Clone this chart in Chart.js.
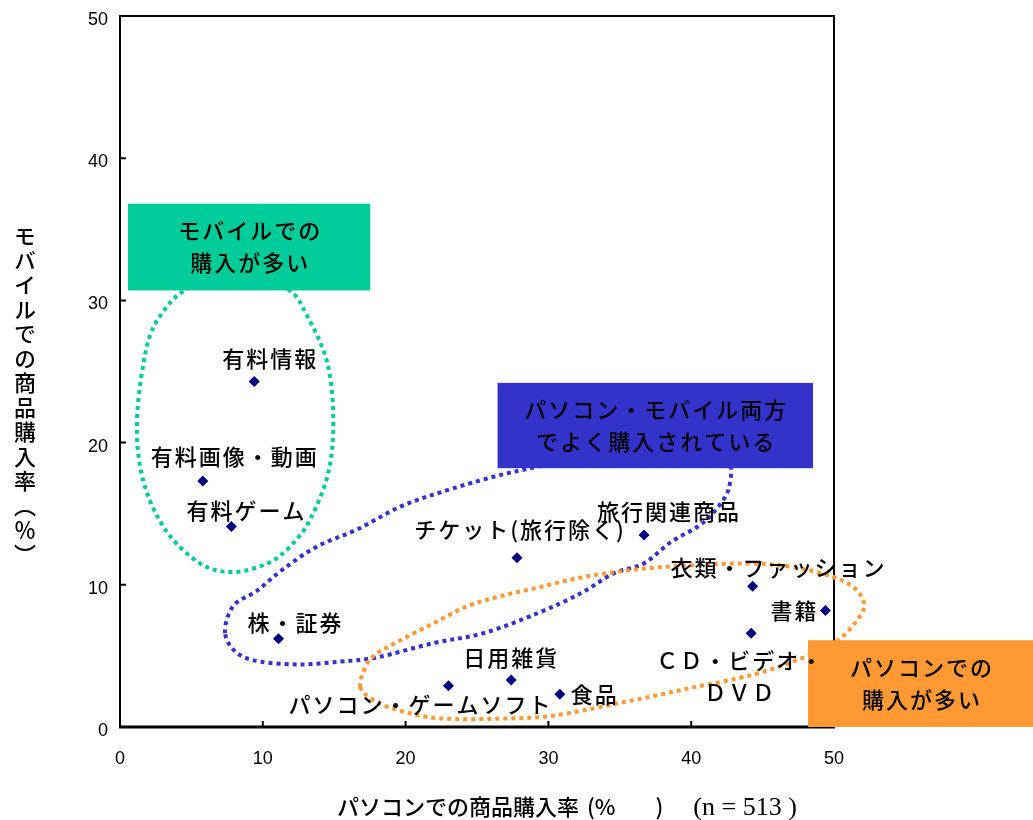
<!DOCTYPE html>
<html lang="ja">
<head>
<meta charset="utf-8">
<title>パソコンとモバイルでの商品購入率</title>
<script src="https://cdn.jsdelivr.net/npm/chart.js@4.4.1/dist/chart.umd.min.js"></script>
<style>
  html, body { margin: 0; padding: 0; background: #fff; }
  #wrap { position: relative; width: 1033px; height: 820px; overflow: hidden; }
  #chart { position: absolute; left: 0; top: 0; }
  .ytitle {
    position: absolute; left: 9px; top: 225px;
    writing-mode: vertical-rl;
    font: 500 22px "Noto Sans CJK JP", sans-serif;
    letter-spacing: 2.5px; color: #000;
  }
  .xtitle {
    position: absolute; left: 337px; top: 789px;
    font: 500 22px "Noto Sans CJK JP", sans-serif;
    white-space: nowrap; color: #000;
  }
  .xtitle .pct { margin-left: 8px; }
  .xtitle .close { margin-left: 40px; }
  .xtitle .n { font-family: "Liberation Serif", serif; font-size: 26px; margin-left: 30px; }
</style>
</head>
<body>
<div id="wrap">
  <canvas id="chart" width="1033" height="820"></canvas>
  <div class="ytitle">モバイルでの商品購入率（％）</div>
  <div class="xtitle">パソコンでの商品購入率<span class="pct">(%</span><span class="close">)</span><span class="n">(n = 513 )</span></div>
</div>
<script>
// ---- 商品ごとの購入率 (%) ----
const items = [
  "有料情報", "有料画像・動画", "有料ゲーム", "株・証券", "チケット(旅行除く)",
  "旅行関連商品", "衣類・ファッション", "書籍", "ＣＤ・ビデオ・ＤＶＤ",
  "日用雑貨", "パソコン・ゲームソフト", "食品"
];
const pcRate     = [9.4, 5.8, 7.8, 11.1, 27.8, 36.7, 44.3, 49.4, 44.2, 27.4, 23.0, 30.8];
const mobileRate = [24.3, 17.3, 14.1, 6.2, 11.9, 13.5, 9.9, 8.2, 6.6, 3.3, 2.9, 2.3];
const axisTicks  = [0, 10, 20, 30, 40, 50];

// ラベルの置き方 (点からのずれ, px)
const labelLayout = [
  { dx: 16, dy: -23 }, { dx: 32, dy: -24 }, { dx: 15, dy: -16 }, { dx: 17, dy: -16 },
  { dx: 3, dy: -28 }, { dx: 25, dy: -23 }, { dx: 26, dy: -19 },
  { dx: -7, dy: 0, align: "right" },
  { dx: -11, dy: 27, wrapAt: 7, lineGap: 32 },
  { dx: 0, dy: -22 }, { dx: -28, dy: 19 },
  { dx: 11, dy: 0, align: "left" }
];

// ---- グループを囲む点線 (軸の単位) ----
const mobileZone = [
  [8.06, 32.0], [11.71, 30.8], [13.11, 28.9], [14.52, 25.6], [14.94, 21.6], [14.59, 17.9],
  [13.32, 14.6], [11.92, 12.7], [10.31, 11.5], [7.92, 10.9], [5.61, 11.5], [3.16, 13.9],
  [1.61, 17.4], [1.19, 21.6], [1.89, 26.8], [3.02, 29.2], [4.70, 30.8]
];
const bothZone = [
  [7.36, 6.6], [7.92, 8.5], [9.61, 9.6], [11.43, 11.1], [13.81, 12.7], [16.62, 13.9],
  [19.64, 15.5], [22.44, 16.5], [26.16, 17.6], [29.24, 18.3], [33.66, 19.2], [39.27, 19.6],
  [42.43, 18.9], [42.64, 16.8], [41.58, 15.1], [40.46, 14.1], [38.57, 13.0], [36.68, 11.5],
  [34.57, 10.8], [32.26, 9.4], [29.24, 8.0], [25.46, 6.6], [21.95, 5.9], [18.02, 4.9],
  [15.43, 4.6], [12.62, 4.4], [9.82, 4.6], [8.20, 5.2]
];
const pcZone = [
  [16.83, 2.8], [17.18, 4.2], [17.88, 5.1], [19.64, 6.1], [21.95, 7.3], [24.33, 8.5],
  [26.65, 9.2], [29.24, 9.8], [32.75, 10.6], [37.38, 11.2], [43.27, 11.5], [46.77, 11.3],
  [49.79, 10.6], [51.40, 9.8], [52.10, 8.7], [51.75, 7.7], [50.28, 6.1], [47.90, 4.9],
  [44.39, 3.7], [39.76, 2.7], [35.06, 1.7], [30.36, 0.8], [27.14, 0.6], [22.44, 0.6],
  [19.42, 1.2], [17.74, 1.9]
];

const zones = [
  { pts: mobileZone, color: "#00CC99" },
  { pts: bothZone, color: "#3333CC" },
  { pts: pcZone, color: "#FF9933" }
];
const notes = [
  { lines: ["モバイルでの", "購入が多い"], from: [0.56, 36.8], to: [17.53, 30.7], color: "#00CC99" },
  { lines: ["パソコン・モバイル両方", "でよく購入されている"], from: [26.44, 24.2], to: [48.53, 18.2], color: "#3333CC" },
  { lines: ["パソコンでの", "購入が多い"], from: [48.18, 6.1], to: [64.0, 0], color: "#FF9933" }
];

const JP_FONT = '"Noto Sans CJK JP", sans-serif';

// 閉じた滑らかな曲線 (Catmull-Rom)
function smoothClosed(ctx, p) {
  const n = p.length;
  ctx.moveTo(p[0][0], p[0][1]);
  for (let i = 0; i < n; i++) {
    const p0 = p[(i - 1 + n) % n], p1 = p[i], p2 = p[(i + 1) % n], p3 = p[(i + 2) % n];
    ctx.bezierCurveTo(
      p1[0] + (p2[0] - p0[0]) / 6, p1[1] + (p2[1] - p0[1]) / 6,
      p2[0] - (p3[0] - p1[0]) / 6, p2[1] - (p3[1] - p1[1]) / 6,
      p2[0], p2[1]
    );
  }
  ctx.closePath();
}

const framePlugin = {
  id: "frame",
  beforeDatasetsDraw(chart) {
    const { ctx, chartArea: a, scales: { x, y } } = chart;
    ctx.save();
    // 枠と内向きの目盛り
    ctx.strokeStyle = "#000";
    ctx.lineWidth = 2;
    ctx.strokeRect(a.left, a.top, a.right - a.left, a.bottom - a.top);
    ctx.lineWidth = 3;
    ctx.beginPath();
    ctx.moveTo(a.left - 1, a.bottom);
    ctx.lineTo(a.right + 1, a.bottom);
    ctx.stroke();
    ctx.lineWidth = 2;
    ctx.beginPath();
    axisTicks.forEach(v => {
      const px = x.getPixelForValue(v), py = y.getPixelForValue(v);
      ctx.moveTo(px, a.bottom); ctx.lineTo(px, a.bottom - 6);
      ctx.moveTo(a.left, py); ctx.lineTo(a.left + 6, py);
    });
    ctx.stroke();

    // 点線の囲み
    ctx.lineWidth = 4;
    ctx.setLineDash([4, 4]);
    zones.forEach(z => {
      ctx.strokeStyle = z.color;
      ctx.beginPath();
      smoothClosed(ctx, z.pts.map(q => [x.getPixelForValue(q[0]), y.getPixelForValue(q[1])]));
      ctx.stroke();
    });
    ctx.setLineDash([]);

    // 説明ボックス
    ctx.font = "500 22px " + JP_FONT;
    ctx.letterSpacing = "2px";
    ctx.textAlign = "center";
    ctx.textBaseline = "middle";
    notes.forEach(b => {
      const x0 = x.getPixelForValue(b.from[0]), x1 = x.getPixelForValue(b.to[0]);
      const y0 = y.getPixelForValue(b.from[1]), y1 = y.getPixelForValue(b.to[1]);
      ctx.fillStyle = b.color;
      ctx.fillRect(x0, y0, x1 - x0, y1 - y0);
      ctx.fillStyle = "#000";
      const cx = (x0 + x1) / 2 + 1, cy = (y0 + y1) / 2;
      b.lines.forEach((t, i) => ctx.fillText(t, cx, cy + (i - 0.5) * 32));
    });
    ctx.restore();
  },
  afterDatasetsDraw(chart) {
    const { ctx } = chart;
    const pts = chart.getDatasetMeta(0).data;
    ctx.save();
    ctx.font = "500 22px " + JP_FONT;
    ctx.letterSpacing = "2px";
    ctx.fillStyle = "#000";
    ctx.textBaseline = "middle";
    items.forEach((name, i) => {
      const l = labelLayout[i], p = pts[i];
      ctx.textAlign = l.align || "center";
      const lines = l.wrapAt ? [name.slice(0, l.wrapAt), name.slice(l.wrapAt)] : [name];
      lines.forEach((t, k) => ctx.fillText(t, p.x + l.dx, p.y + l.dy + k * (l.lineGap || 0)));
    });
    ctx.restore();
  }
};

const tickFont = { family: '"Liberation Sans", Arial, sans-serif', size: 18 };

new Chart(document.getElementById("chart"), {
  type: "scatter",
  data: {
    datasets: [{
      data: pcRate.map((v, i) => ({ x: v, y: mobileRate[i] })),
      pointStyle: "rectRot",
      pointRadius: 5.5,
      backgroundColor: "#000080",
      borderColor: "#000080",
      borderWidth: 0
    }]
  },
  options: {
    responsive: false,
    animation: false,
    layout: { padding: { left: 70, top: 16, right: 199, bottom: 48 } },
    plugins: { legend: { display: false }, tooltip: { enabled: false } },
    scales: {
      x: {
        type: "linear", min: 0, max: 50,
        afterBuildTicks: s => { s.ticks = axisTicks.map(v => ({ value: v })); },
        afterFit: s => { s.height = 45; s.paddingLeft = 0; s.paddingRight = 0; },
        grid: { display: false, drawTicks: false },
        border: { display: false },
        ticks: { padding: 21, color: "#000", font: tickFont }
      },
      y: {
        type: "linear", min: 0, max: 50,
        afterBuildTicks: s => { s.ticks = axisTicks.map(v => ({ value: v })); },
        afterFit: s => { s.width = 50; s.paddingTop = 0; s.paddingBottom = 0; },
        grid: { display: false, drawTicks: false },
        border: { display: false },
        ticks: { padding: 12, labelOffset: 4, color: "#000", font: tickFont }
      }
    }
  },
  plugins: [framePlugin]
});
</script>
</body>
</html>
